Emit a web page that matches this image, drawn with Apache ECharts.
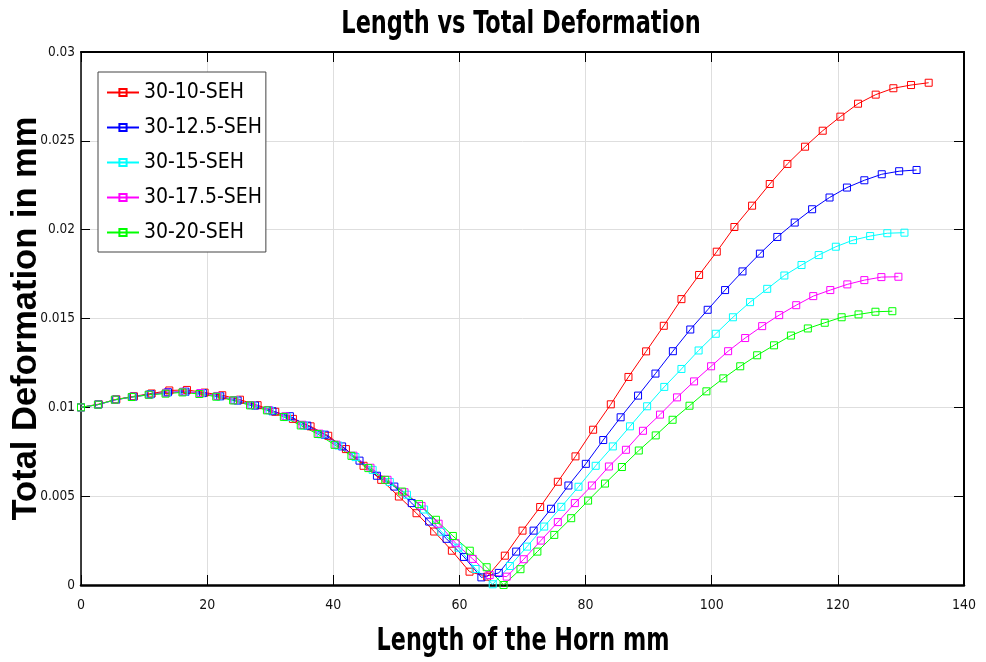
<!DOCTYPE html>
<html>
<head>
<meta charset="utf-8">
<script src="https://cdn.jsdelivr.net/npm/echarts@6/dist/echarts.min.js"></script>
<style>
  html, body { margin: 0; padding: 0; background: #fff; }
  #chart { width: 986px; height: 662px; }
</style>
</head>
<body>
<div id="chart"></div>
<script>
const seriesNames = ['30-10-SEH', '30-12.5-SEH', '30-15-SEH', '30-17.5-SEH', '30-20-SEH'];
const seriesColors = ['#ff0000', '#0000ff', '#00ffff', '#ff00ff', '#00ff00'];

const xRed = [0, 2.8, 5.6, 8.4, 11.2, 14, 16.8, 19.6, 22.4, 25.2, 28, 30.8, 33.6, 36.4, 39.2, 42, 44.8, 47.6, 50.4, 53.2, 56, 58.8, 61.6, 64.4, 67.2, 70, 72.8, 75.6, 78.4, 81.2, 84, 86.8, 89.6, 92.4, 95.2, 98, 100.8, 103.6, 106.4, 109.2, 112, 114.8, 117.6, 120.4, 123.2, 126, 128.8, 131.6, 134.4];
const yRed = [0.01000, 0.01018, 0.01045, 0.01062, 0.01078, 0.01095, 0.01098, 0.01083, 0.01068, 0.01043, 0.01012, 0.00975, 0.00935, 0.00893, 0.00840, 0.00765, 0.00671, 0.00592, 0.00498, 0.00404, 0.00301, 0.00193, 0.00075, 0.00047, 0.00165, 0.00306, 0.00439, 0.00581, 0.00724, 0.00874, 0.01017, 0.01171, 0.01315, 0.01459, 0.01609, 0.01745, 0.01876, 0.02015, 0.02135, 0.02257, 0.02370, 0.02467, 0.02557, 0.02636, 0.02709, 0.02760, 0.02796, 0.02814, 0.02827];

const xBlue = [0, 2.76, 5.52, 8.28, 11.04, 13.8, 16.56, 19.32, 22.08, 24.84, 27.6, 30.36, 33.12, 35.88, 38.64, 41.4, 44.16, 46.92, 49.68, 52.44, 55.2, 57.96, 60.72, 63.48, 66.24, 69, 71.76, 74.52, 77.28, 80.04, 82.8, 85.56, 88.32, 91.08, 93.84, 96.6, 99.36, 102.12, 104.88, 107.64, 110.4, 113.16, 115.92, 118.68, 121.44, 124.2, 126.96, 129.72, 132.48];
const yBlue = [0.01000, 0.01016, 0.01043, 0.01060, 0.01074, 0.01085, 0.01088, 0.01080, 0.01062, 0.01038, 0.01010, 0.00978, 0.00950, 0.00897, 0.00846, 0.00780, 0.00700, 0.00615, 0.00554, 0.00461, 0.00357, 0.00260, 0.00158, 0.00043, 0.00068, 0.00188, 0.00306, 0.00429, 0.00560, 0.00682, 0.00816, 0.00944, 0.01066, 0.01190, 0.01316, 0.01438, 0.01549, 0.01660, 0.01765, 0.01865, 0.01959, 0.02040, 0.02115, 0.02181, 0.02237, 0.02278, 0.02312, 0.02329, 0.02336];

const xCyan = [0, 2.72, 5.44, 8.16, 10.88, 13.6, 16.32, 19.04, 21.76, 24.48, 27.2, 29.92, 32.64, 35.36, 38.08, 40.8, 43.52, 46.24, 48.96, 51.68, 54.4, 57.12, 59.84, 62.56, 65.28, 68, 70.72, 73.44, 76.16, 78.88, 81.6, 84.32, 87.04, 89.76, 92.48, 95.2, 97.92, 100.64, 103.36, 106.08, 108.8, 111.52, 114.24, 116.96, 119.68, 122.4, 125.12, 127.84, 130.56];
const yCyan = [0.01000, 0.01015, 0.01042, 0.01058, 0.01071, 0.01080, 0.01086, 0.01080, 0.01062, 0.01040, 0.01012, 0.00983, 0.00945, 0.00898, 0.00848, 0.00785, 0.00720, 0.00648, 0.00580, 0.00508, 0.00425, 0.00300, 0.00210, 0.00090, 0.00004, 0.00107, 0.00216, 0.00329, 0.00440, 0.00553, 0.00671, 0.00780, 0.00893, 0.01006, 0.01115, 0.01216, 0.01320, 0.01414, 0.01507, 0.01592, 0.01667, 0.01742, 0.01801, 0.01857, 0.01904, 0.01941, 0.01964, 0.01980, 0.01983];

const xMagenta = [0, 2.7, 5.4, 8.1, 10.8, 13.5, 16.2, 18.9, 21.6, 24.3, 27, 29.7, 32.4, 35.1, 37.8, 40.5, 43.2, 45.9, 48.6, 51.3, 54, 56.7, 59.4, 62.1, 64.8, 67.5, 70.2, 72.9, 75.6, 78.3, 81, 83.7, 86.4, 89.1, 91.8, 94.5, 97.2, 99.9, 102.6, 105.3, 108, 110.7, 113.4, 116.1, 118.8, 121.5, 124.2, 126.9, 129.6];
const yMagenta = [0.01000, 0.01015, 0.01042, 0.01058, 0.01071, 0.01082, 0.01088, 0.01080, 0.01064, 0.01040, 0.01013, 0.00985, 0.00950, 0.00902, 0.00852, 0.00790, 0.00728, 0.00660, 0.00592, 0.00522, 0.00445, 0.00345, 0.00235, 0.00147, 0.00056, 0.00047, 0.00145, 0.00250, 0.00354, 0.00461, 0.00560, 0.00667, 0.00761, 0.00868, 0.00959, 0.01056, 0.01146, 0.01231, 0.01316, 0.01390, 0.01457, 0.01519, 0.01575, 0.01626, 0.01660, 0.01692, 0.01716, 0.01733, 0.01735];

const xGreen = [0, 2.68, 5.36, 8.04, 10.72, 13.4, 16.08, 18.76, 21.44, 24.12, 26.8, 29.48, 32.16, 34.84, 37.52, 40.2, 42.88, 45.56, 48.24, 50.92, 53.6, 56.28, 58.96, 61.64, 64.32, 67, 69.68, 72.36, 75.04, 77.72, 80.4, 83.08, 85.76, 88.44, 91.12, 93.8, 96.48, 99.16, 101.84, 104.52, 107.2, 109.88, 112.56, 115.24, 117.92, 120.6, 123.28, 125.96, 128.64];
const yGreen = [0.01000, 0.01015, 0.01043, 0.01058, 0.01071, 0.01077, 0.01084, 0.01075, 0.01060, 0.01039, 0.01011, 0.00983, 0.00946, 0.00898, 0.00850, 0.00789, 0.00727, 0.00658, 0.00592, 0.00526, 0.00455, 0.00367, 0.00276, 0.00193, 0.00100, 0.00000, 0.00089, 0.00188, 0.00282, 0.00376, 0.00475, 0.00571, 0.00664, 0.00757, 0.00842, 0.00930, 0.01009, 0.01090, 0.01163, 0.01231, 0.01293, 0.01349, 0.01404, 0.01444, 0.01476, 0.01507, 0.01523, 0.01538, 0.01541];

const xTickLabels = ['0', '20', '40', '60', '80', '100', '120', '140'];
const yTickLabels = ['0', '0.005', '0.01', '0.015', '0.02', '0.025', '0.03'];
const titleText = 'Length vs Total Deformation';
const xAxisTitle = 'Length of the Horn mm';
const yAxisTitle = 'Total Deformation in mm';

const xs = [xRed, xBlue, xCyan, xMagenta, xGreen];
const ys = [yRed, yBlue, yCyan, yMagenta, yGreen];

const narrow = "'Liberation Sans Narrow', 'Arial Narrow', 'DejaVu Sans Condensed', sans-serif";
const wide = "'Liberation Sans', Arial, sans-serif";

const series = seriesNames.map((name, k) => ({
  name: name,
  type: 'line',
  xAxisIndex: 0,
  yAxisIndex: 0,
  data: xs[k].map((x, i) => [x, ys[k][i]]),
  symbol: 'rect',
  symbolSize: 7,
  showAllSymbol: true,
  clip: false,
  lineStyle: { color: seriesColors[k], width: 1 },
  itemStyle: { color: 'rgba(255,255,255,0)', borderColor: seriesColors[k], borderWidth: 1 },
  emphasis: { disabled: true }
}));

const chart = echarts.init(document.getElementById('chart'), null, { renderer: 'canvas' });
chart.setOption({
  animation: false,
  backgroundColor: '#ffffff',
  graphic: [{
    type: 'text',
    x: 521, y: 25,
    scaleX: 0.78,
    style: { text: titleText, font: "bold 32px 'DejaVu Sans Condensed', sans-serif", fill: '#000', align: 'center', verticalAlign: 'middle' }
  }, {
    type: 'text',
    x: 523, y: 642,
    scaleX: 0.775,
    style: { text: xAxisTitle, font: "bold 32px 'DejaVu Sans Condensed', sans-serif", fill: '#000', align: 'center', verticalAlign: 'middle' }
  }],
  grid: { left: 81, right: 22, top: 52, bottom: 77, containLabel: false, outerBoundsMode: 'none' },
  legend: {
    orient: 'vertical',
    left: 98,
    top: 72,
    padding: [10, 4, 9, 8],
    itemWidth: 32,
    itemHeight: 9,
    itemGap: 14,
    backgroundColor: '#fff',
    borderColor: '#444',
    borderWidth: 1,
    borderRadius: 0,
    textStyle: { fontFamily: narrow, fontSize: 21, color: '#000' },
    data: seriesNames
  },
  xAxis: [{
    type: 'value',
    min: 0, max: 140, interval: 20,
    position: 'bottom',
    axisLine: { show: true, onZero: false, lineStyle: { color: '#000', width: 2.5 } },
    axisTick: { show: true, inside: true, length: 10, lineStyle: { color: '#000', width: 1 } },
    axisLabel: { margin: 13, fontFamily: narrow, fontSize: 14, color: '#111',
      formatter: (v) => xTickLabels[Math.round(v / 20)] },
    splitLine: { show: true, lineStyle: { color: '#dedede', width: 1 } }
  }, {
    type: 'value',
    min: 0, max: 140, interval: 20,
    position: 'top',
    axisLine: { show: true, onZero: false, lineStyle: { color: '#000', width: 2 } },
    axisTick: { show: true, inside: true, length: 10, lineStyle: { color: '#000', width: 1 } },
    axisLabel: { show: false },
    splitLine: { show: false }
  }],
  yAxis: [{
    type: 'value',
    min: 0, max: 0.03, interval: 0.005,
    position: 'left',
    name: yAxisTitle,
    nameLocation: 'middle',
    nameGap: 37,
    nameMoveOverlap: false,
    nameTextStyle: { fontFamily: wide, fontWeight: 'bold', fontSize: 34.5, color: '#000' },
    axisLine: { show: true, onZero: false, lineStyle: { color: '#000', width: 1.5 } },
    axisTick: { show: true, inside: true, length: 9, lineStyle: { color: '#000', width: 1 } },
    axisLabel: { margin: 6, fontFamily: narrow, fontSize: 13.5, color: '#111',
      formatter: (v) => yTickLabels[Math.round(v / 0.005)] },
    splitLine: { show: true, lineStyle: { color: '#dedede', width: 1 } }
  }, {
    type: 'value',
    min: 0, max: 0.03, interval: 0.005,
    position: 'right',
    axisLine: { show: true, onZero: false, lineStyle: { color: '#000', width: 2 } },
    axisTick: { show: true, inside: true, length: 10, lineStyle: { color: '#000', width: 1 } },
    axisLabel: { show: false },
    splitLine: { show: false }
  }],
  series: series
});
</script>
</body>
</html>
